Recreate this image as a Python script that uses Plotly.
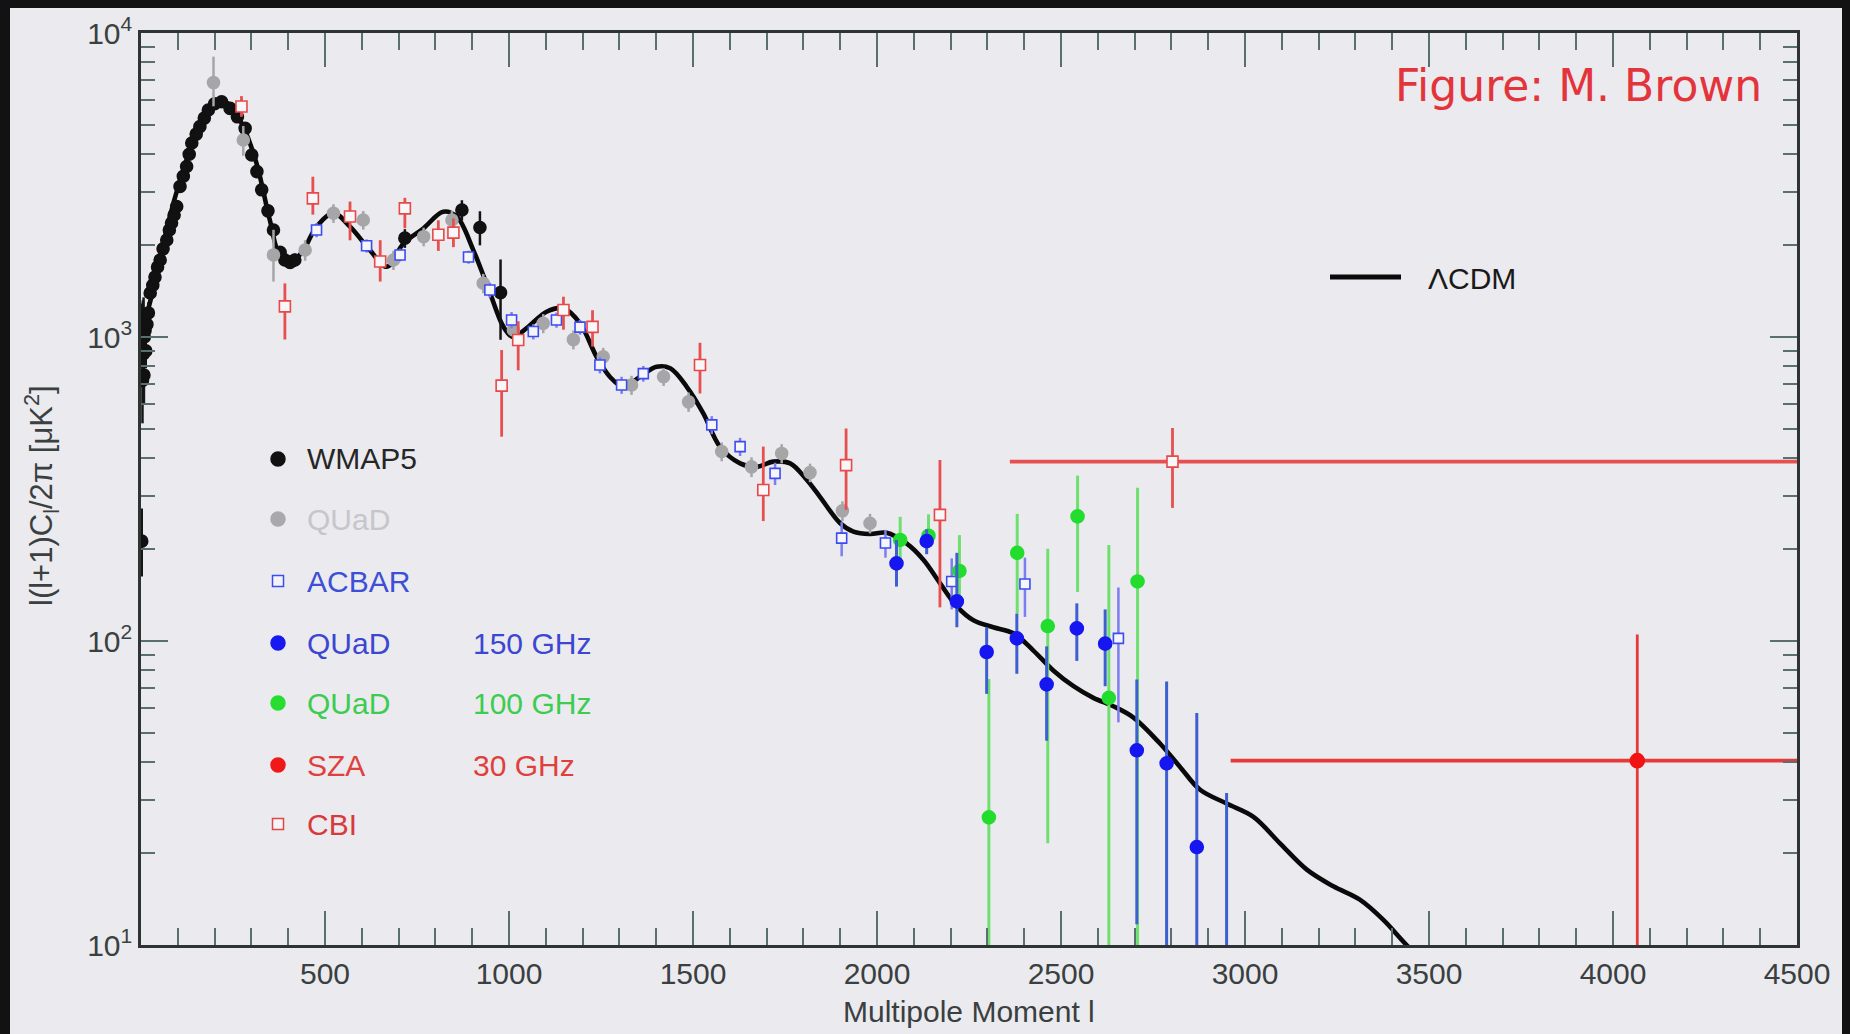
import plotly.graph_objects as go

# ---------------- data ----------------
lcdm_l = [2, 6, 33, 61, 88, 115, 142, 178, 215, 242, 278, 314, 350, 378, 405, 441, 477, 523, 568,
          622, 668, 713, 768, 821, 858, 903, 948, 985, 1011, 1048, 1102, 1148, 1193, 1238, 1274,
          1311, 1356, 1401, 1438, 1483, 1528, 1573, 1628, 1673, 1718, 1764, 1809, 1845, 1900, 1936,
          1981, 2026, 2081, 2126, 2171, 2217, 2262, 2316, 2371, 2425, 2479, 2534, 2588, 2642, 2697,
          2769, 2823, 2878, 2950, 3023, 3095, 3168, 3240, 3312, 3376, 3439, 3520]
lcdm_d = [950, 1055, 1428, 2030, 2754, 3540, 4445, 5580, 5985, 5800, 4920, 3725, 2425, 1836, 1746,
          1931, 2306, 2553, 2306, 1931, 1702, 2030, 2280, 2583, 2490, 1931, 1400, 1080, 1000, 1069,
          1211, 1243, 1109, 861, 740, 686, 740, 798, 789, 686, 561, 436, 384, 374, 389, 384, 339,
          298, 244, 229, 225, 227, 209, 185, 155, 130, 117, 111, 106, 93, 80, 71, 65, 61, 56, 46,
          38.6, 32.4, 29.2, 26.4, 21.6, 17.7, 15.6, 14.1, 12.1, 10.0, 8.0]

wmap_l = [2, 3, 4, 5, 6, 7, 8, 9, 11, 13, 16, 20, 25, 32, 38, 45, 52, 60, 70, 77, 83, 90, 97, 106,
          115, 124, 131, 138, 150, 160, 172, 183, 200, 219, 242, 262, 283, 301, 315, 328, 345, 360,
          378, 391, 405, 418, 717, 872, 921, 977]
wmap_d = [213, 1040, 720, 1100, 880, 1150, 750, 1000, 1050, 900, 1100, 1200, 1396, 1480, 1574, 1700,
          1791, 1950, 2084, 2250, 2371, 2520, 2687, 3126, 3380, 3637, 3990, 4345, 4650, 4920, 5250,
          5580, 5850, 5943, 5650, 5300, 4856, 3970, 3500, 3049, 2600, 2250, 1900, 1791, 1760, 1791,
          2114, 2618, 2292, 1399]
wmap_ep = [60, 250, 200, 220, 180, 200, 150, 150, 130, 110, 110, 100, 90, 80, 80, 80, 80, 80, 80, 80,
           80, 80, 90, 90, 100, 100, 100, 110, 110, 110, 110, 110, 110, 110, 110, 110, 110, 100,
           100, 90, 90, 80, 80, 80, 80, 90, 150, 200, 300, 400]
wmap_em = [50, 250, 200, 220, 180, 200, 150, 150, 130, 110, 110, 100, 90, 80, 80, 80, 80, 80, 80, 80,
           80, 80, 90, 90, 100, 100, 100, 110, 110, 110, 110, 110, 110, 110, 110, 110, 110, 100,
           100, 90, 90, 80, 80, 80, 80, 90, 150, 200, 290, 420]

quad_l = [197, 278, 360, 446, 523, 604, 686, 768, 845, 930, 1012, 1093, 1175, 1256, 1333, 1420, 1488,
          1578, 1659, 1741, 1818, 1906, 1981]
quad_d = [6870, 4445, 1862, 1932, 2553, 2425, 1791, 2138, 2425, 1503, 1055, 1109, 980, 861, 695, 740,
          612, 420, 374, 414, 358, 268, 244]
quad_ep = [1490, 500, 390, 150, 180, 170, 130, 150, 170, 110, 80, 80, 70, 60, 50, 50, 45, 30, 28, 30,
           25, 20, 18]
quad_em = [1130, 500, 340, 150, 180, 170, 130, 150, 170, 110, 80, 80, 70, 60, 50, 50, 45, 30, 28, 30,
           25, 20, 18]

acbar_l = [477, 613, 704, 890, 948, 1007, 1066, 1129, 1193, 1247, 1306, 1365, 1551, 1628, 1723, 1904,
           2023, 2203, 2402, 2656]
acbar_d = [2250, 1995, 1862, 1832, 1428, 1138, 1042, 1138, 1078, 809, 695, 758, 514, 436, 356, 218,
           210, 157, 154, 102]
acbar_e = [120, 100, 90, 90, 80, 70, 60, 65, 60, 50, 45, 45, 35, 30, 30, 28, 22, 30, 34, 48]

cbi_l = [273, 391, 467, 568, 650, 717, 808, 849, 980, 1025, 1148, 1227, 1519, 1691, 1916, 2171, 2803]
cbi_d = [5730, 1261, 2857, 2490, 1772, 2650, 2170, 2205, 692, 977, 1227, 1080, 809, 314, 379, 260, 389]
cbi_ep = [470, 240, 510, 300, 310, 220, 250, 250, 214, 150, 130, 145, 148, 122, 121, 134, 113]
cbi_em = [430, 280, 330, 410, 250, 370, 250, 230, 222, 200, 170, 150, 157, 66, 109, 131, 115]
cbi_xm = [0] * 16 + [442]
cbi_xp = [0] * 16 + [1697]

q150_l = [2053, 2135, 2217, 2298, 2380, 2461, 2543, 2620, 2706, 2787, 2869, 2950]
q150_d = [180, 213, 135, 92, 102, 72, 110, 98, 43.7, 39.6, 21, 6]
q150_ep = [35, 20, 60, 19, 21, 24, 23, 29, 31, 34, 37, 25.6]
q150_em = [29, 20, 24, 25, 24, 25, 24, 27, 32, 38.6, 20, 5]

q100_l = [2063, 2140, 2224, 2304, 2381, 2464, 2545, 2630, 2708]
q100_d = [215, 222, 170, 26.3, 195, 112, 257, 65, 157]
q100_ep = [41, 39, 53, 48.7, 67, 89, 93, 142, 162]
q100_em = [30, 10, 32, 25.3, 72, 90.4, 112, 64, 156]

sza_l = [4066]
sza_d = [40.4]
sza_ep = [64.6]
sza_em = [39.4]
sza_xm = [1105]
sza_xp = [500]

x_ticks = [500, 1000, 1500, 2000, 2500, 3000, 3500, 4000, 4500]
x_ticktext = ["500", "1000", "1500", "2000", "2500", "3000", "3500", "4000", "4500"]
y_ticks = [10, 100, 1000, 10000]
y_ticktext = ["10<sup>1</sup>", "10<sup>2</sup>", "10<sup>3</sup>", "10<sup>4</sup>"]
y_minor = [m * 10 ** e for e in (1, 2, 3) for m in range(2, 10)]

legend_rows = [
    ("WMAP5", "", "circle", "#111111", "#111111", "#262626"),
    ("QUaD", "", "circle", "#a9a9ab", "#a9a9ab", "#c6c6ca"),
    ("ACBAR", "", "square", "#3b4cf0", "#f4f4f8", "#3c4fd6"),
    ("QUaD", "150 GHz", "circle", "#1818f0", "#1818f0", "#3b47d2"),
    ("QUaD", "100 GHz", "circle", "#26dd30", "#26dd30", "#3ccc4e"),
    ("SZA", "30 GHz", "circle", "#f01818", "#f01818", "#e0403c"),
    ("CBI", "", "square", "#e04848", "#f4f4f8", "#d83a3c"),
]

# ---------------- figure ----------------
BG = "#ebeaee"
FONT = "Liberation Sans"
W, H = 1850, 1034
ML, MR, MT, MB = 141, 53, 33, 89
PW, PH = W - ML - MR, H - MT - MB


def px(X):
    return (X - ML) / PW


def py(Y):
    return (H - MB - Y) / PH


fig = go.Figure()

fig.add_trace(go.Scatter(x=lcdm_l, y=lcdm_d, mode="lines", line=dict(color="#0a0a0a", width=4.6,
                         shape="spline", smoothing=1.0), showlegend=False, hoverinfo="skip"))


def data_trace(xv, yv, ep, em, symbol, color, fill, size, ecol, ewidth, xm=None, xp=None, lw=1.6):
    tr = go.Scatter(
        x=xv, y=yv, mode="markers",
        marker=dict(symbol=symbol, size=size, color=fill, line=dict(color=color, width=lw)),
        error_y=dict(type="data", symmetric=False, array=ep, arrayminus=em, color=ecol,
                     thickness=ewidth, width=0),
        showlegend=False, hoverinfo="skip")
    if xm is not None:
        tr.error_x = dict(type="data", symmetric=False, array=xp, arrayminus=xm, color=ecol,
                          thickness=ewidth + 1, width=0)
    return tr


fig.add_trace(data_trace(wmap_l, wmap_d, wmap_ep, wmap_em, "circle", "#111111", "#111111", 12,
                         "#151515", 2.5))
fig.add_trace(data_trace(quad_l, quad_d, quad_ep, quad_em, "circle", "#a6a6a8", "#a6a6a8", 12,
                         "#a6a6a8", 2.5))
fig.add_trace(data_trace(acbar_l, acbar_d, acbar_e, acbar_e, "square", "#3a4cf2", "#f6f6fa", 10,
                         "#7c7ef0", 2.5))
fig.add_trace(data_trace(cbi_l, cbi_d, cbi_ep, cbi_em, "square", "#e84848", "#f8f6f8", 11,
                         "#e65050", 2.8, xm=cbi_xm, xp=cbi_xp))
fig.add_trace(data_trace(q100_l, q100_d, q100_ep, q100_em, "circle", "#22dd2e", "#22dd2e", 13,
                         "#6ee06e", 3))
fig.add_trace(data_trace(q150_l, q150_d, q150_ep, q150_em, "circle", "#1616f0", "#1616f0", 13,
                         "#3d5fd0", 3))
fig.add_trace(data_trace(sza_l, sza_d, sza_ep, sza_em, "circle", "#f01414", "#f01414", 14,
                         "#e63a3a", 2.8, xm=sza_xm, xp=sza_xp))

tick_col = "#5a7070"
fig.update_xaxes(
    range=[0, 4500], tickvals=x_ticks, ticktext=x_ticktext, ticks="inside", ticklen=34,
    tickwidth=2, tickcolor=tick_col, showline=True, linecolor="#2e3434", linewidth=2.5,
    mirror="ticks", showgrid=False, zeroline=False,
    tickfont=dict(family=FONT, size=30, color="#39403f"),
    minor=dict(dtick=100, ticks="inside", ticklen=17, tickwidth=1.6, tickcolor=tick_col,
               showgrid=False),
)
fig.update_yaxes(
    type="log", range=[1, 4], tickvals=y_ticks, ticktext=y_ticktext, ticks="inside", ticklen=27,
    tickwidth=2, tickcolor=tick_col, showline=True, linecolor="#2e3434", linewidth=2.5,
    mirror="ticks", showgrid=False, zeroline=False,
    tickfont=dict(family=FONT, size=30, color="#39403f"),
    minor=dict(tickmode="array", tickvals=y_minor, ticks="inside", ticklen=14, tickwidth=1.6,
               tickcolor=tick_col, showgrid=False),
)

shapes = [
    dict(type="rect", xref="paper", yref="paper", x0=-0.2, x1=1.2, y0=py(8), y1=py(-20),
         fillcolor="#121212", line=dict(width=0), layer="above"),
    dict(type="rect", xref="paper", yref="paper", x0=px(-20), x1=px(10), y0=-0.3, y1=1.2,
         fillcolor="#121212", line=dict(width=0), layer="above"),
    dict(type="rect", xref="paper", yref="paper", x0=px(1842), x1=px(1870), y0=-0.3, y1=1.2,
         fillcolor="#121212", line=dict(width=0), layer="above"),
    dict(type="line", xref="paper", yref="paper", x0=px(1330), x1=px(1401), y0=py(277), y1=py(277),
         line=dict(color="#0a0a0a", width=5)),
]

annotations = [
    dict(text="Figure: M. Brown", xref="paper", yref="paper", x=px(1764), y=py(86),
         xanchor="right", yanchor="middle", showarrow=False,
         font=dict(family="DejaVu Sans", size=44, color="#e3343c")),
    dict(text="\u039bCDM", xref="paper", yref="paper", x=px(1426), y=py(278), xanchor="left",
         yanchor="middle", showarrow=False, font=dict(family=FONT, size=30, color="#1a1a1a")),
    dict(text="Multipole Moment l", xref="paper", yref="paper", x=0.5, y=py(1011), xanchor="center",
         yanchor="middle", showarrow=False, font=dict(family=FONT, size=30, color="#39403f")),
    dict(text="l(l+1)C<sub>l</sub>/2\u03c0 [\u03bcK<sup>2</sup>]", xref="paper", yref="paper",
         x=px(41), y=py(496), xanchor="center", yanchor="middle", textangle=-90, showarrow=False,
         font=dict(family=FONT, size=31, color="#39403f")),
]

row_y = [459, 519, 581, 643, 703, 765, 824]
for (name, freq, sym, edge, fill, tcol), Y in zip(legend_rows, row_y):
    r = 7 if sym == "circle" else 5.5
    shapes.append(dict(type="circle" if sym == "circle" else "rect", xref="paper", yref="paper",
                       xsizemode="pixel", ysizemode="pixel", xanchor=px(278), yanchor=py(Y),
                       x0=-r, x1=r, y0=-r, y1=r, fillcolor=fill, line=dict(color=edge, width=1.5)))
    annotations.append(dict(text=name, xref="paper", yref="paper", x=px(305), y=py(Y),
                            xanchor="left", yanchor="middle", showarrow=False,
                            font=dict(family=FONT, size=30, color=tcol)))
    if freq:
        annotations.append(dict(text=freq, xref="paper", yref="paper", x=px(471), y=py(Y),
                                xanchor="left", yanchor="middle", showarrow=False,
                                font=dict(family=FONT, size=30, color=tcol)))

fig.update_layout(
    width=W, height=H, autosize=False,
    margin=dict(l=ML, r=MR, t=MT, b=MB, pad=0),
    paper_bgcolor=BG, plot_bgcolor=BG,
    showlegend=False, shapes=shapes, annotations=annotations,
)

fig.write_html("out.html", config={"displayModeBar": False},
               post_script="document.body.style.margin='0';document.body.style.overflow='hidden';")
